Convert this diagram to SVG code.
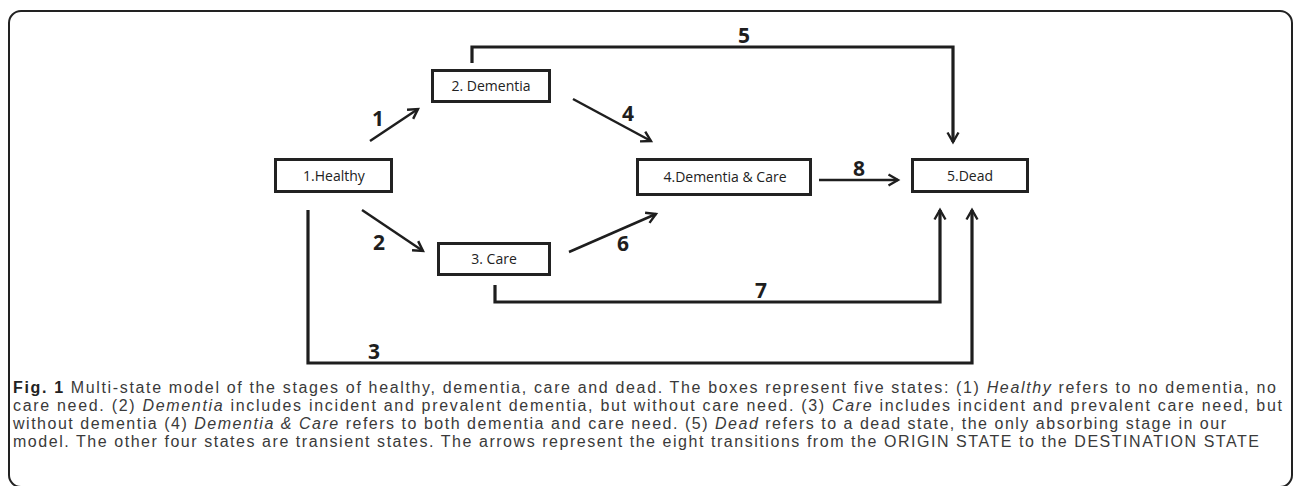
<svg xmlns="http://www.w3.org/2000/svg" width="1295" height="486" viewBox="0 0 1295 486">
<style>
.frame{fill:#fff;stroke:#222;stroke-width:2}
.box{fill:#fff;stroke:#222;stroke-width:3}
.bt{font-family:"Open Sans","Liberation Sans",sans-serif;font-size:14px;fill:#222;text-anchor:middle}
.arr{fill:none;stroke:#1e1e1e;stroke-width:2.5}
.elb{fill:none;stroke:#1e1e1e;stroke-width:3.2}
.num{font-family:"Open Sans","Liberation Sans",sans-serif;font-size:21px;font-weight:bold;fill:#1e1e1e;text-anchor:middle}
.cap{font-family:"Liberation Sans",Arial,sans-serif;font-size:16px;fill:#3a3a3a}
</style>
<defs>
<marker id="ah" markerUnits="userSpaceOnUse" markerWidth="16" markerHeight="16" viewBox="0 0 16 16" refX="13" refY="8" orient="auto">
<path d="M3.5,2.5 L13,8 L3.5,13.5" fill="none" stroke="#1e1e1e" stroke-width="2.4"/>
</marker>
</defs>
<rect class="frame" x="9" y="11" width="1283" height="476" rx="12" ry="12"/>
<g id="connectors">
<line class="arr" x1="370" y1="141" x2="418" y2="109" marker-end="url(#ah)"/>
<line class="arr" x1="362" y1="210" x2="423" y2="251" marker-end="url(#ah)"/>
<line class="arr" x1="573" y1="99" x2="651" y2="141" marker-end="url(#ah)"/>
<line class="arr" x1="569" y1="252" x2="656" y2="214" marker-end="url(#ah)"/>
<line class="arr" x1="819" y1="180" x2="898" y2="180" stroke-width="3" marker-end="url(#ah)"/>
<polyline class="elb" points="472,63 472,47 953,47 953,142" marker-end="url(#ah)"/>
<polyline class="elb" points="495,285 495,302 940,302 940,210" marker-end="url(#ah)"/>
<polyline class="elb" points="308,210 308,363 972,363 972,210" marker-end="url(#ah)"/>
<text class="num" x="378" y="126">1</text>
<text class="num" x="379" y="250">2</text>
<text class="num" x="374" y="359">3</text>
<text class="num" x="628" y="121">4</text>
<text class="num" x="744" y="43">5</text>
<text class="num" x="623" y="251">6</text>
<text class="num" x="761" y="298">7</text>
<text class="num" x="859" y="176">8</text>
</g>
<g id="healthy"><rect class="box" x="275.5" y="159.5" width="116" height="32"/><text class="bt" x="334" y="180.5">1.Healthy</text></g>
<g id="dementia"><rect class="box" x="432.5" y="70.5" width="117" height="31"/><text class="bt" x="491" y="91">2. Dementia</text></g>
<g id="care"><rect class="box" x="438.5" y="243.5" width="111" height="31"/><text class="bt" x="494" y="264">3. Care</text></g>
<g id="dementia-care"><rect class="box" x="637.5" y="159.5" width="173" height="35"/><text class="bt" x="725" y="182">4.Dementia &amp; Care</text></g>
<g id="dead"><rect class="box" x="912.5" y="159.5" width="115" height="32"/><text class="bt" x="970" y="180.5">5.Dead</text></g>
<g id="caption">
<text class="cap" x="13" y="393" textLength="1263" lengthAdjust="spacing"><tspan font-weight="bold" fill="#222">Fig. 1</tspan> Multi-state model of the stages of healthy, dementia, care and dead. The boxes represent five states: (1) <tspan font-style="italic">Healthy</tspan> refers to no dementia, no</text>
<text class="cap" x="13" y="411" textLength="1269" lengthAdjust="spacing">care need. (2) <tspan font-style="italic">Dementia</tspan> includes incident and prevalent dementia, but without care need. (3) <tspan font-style="italic">Care</tspan> includes incident and prevalent care need, but</text>
<text class="cap" x="13" y="429" textLength="1213" lengthAdjust="spacing">without dementia (4) <tspan font-style="italic">Dementia &amp; Care</tspan> refers to both dementia and care need. (5) <tspan font-style="italic">Dead</tspan> refers to a dead state, the only absorbing stage in our</text>
<text class="cap" x="13" y="447" textLength="1246" lengthAdjust="spacing">model. The other four states are transient states. The arrows represent the eight transitions from the ORIGIN STATE to the DESTINATION STATE</text>
</g>
</svg>
